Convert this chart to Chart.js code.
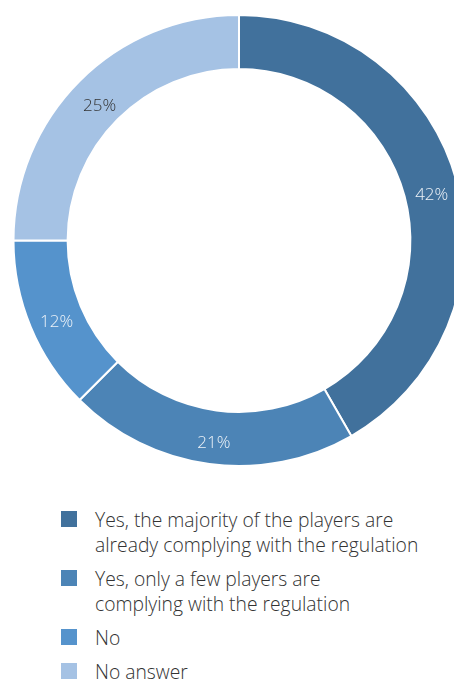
<!DOCTYPE html>
<html lang="en">
<head>
<meta charset="UTF-8">
<title>Compliance survey</title>
<script src="https://cdn.jsdelivr.net/npm/chart.js"></script>
<style>
    html, body { margin: 0; padding: 0; background: #fff; overflow: hidden; }
    body { width: 454px; height: 680px; position: relative; font-family: "Open Sans", sans-serif; }
    .chart-box { position: absolute; left: 0; top: 14px; width: 478px; height: 453px; }
    .legend { position: absolute; left: 61px; top: 507px; list-style: none; margin: 0; padding: 0; }
    .legend li { position: relative; padding-left: 34px; font-size: 19.3px; font-weight: 300; line-height: 25px; color: #333; margin-bottom: 9px; white-space: nowrap; }
    .legend li span { position: absolute; left: 0; top: 4px; width: 16px; height: 16px; }
</style>
</head>
<body>

<div class="chart-box">
    <canvas id="donut"></canvas>
</div>
<ul class="legend" id="legend"></ul>

<script>
const labels = [
    ["Yes, the majority of the players are", "already complying with the regulation"],
    ["Yes, only a few players are", "complying with the regulation"],
    ["No"],
    ["No answer"]
];
// shares as measured from the ring, and the rounded text printed on it
const values = [41.7, 20.8, 12.5, 25.0];
const pctText = ['42%', '21%', '12%', '25%'];
const colors = ['#41719c', '#4c84b6', '#5593cc', '#a5c2e4'];
const labelColors = ['#eef3f8', '#eef3f8', '#eef3f8', '#333333'];

// percentage text in the middle of each ring segment
const sliceLabels = {
    id: 'sliceLabels',
    afterDatasetsDraw(chart) {
        const ctx = chart.ctx;
        const meta = chart.getDatasetMeta(0);
        ctx.save();
        ctx.font = '300 17px "Open Sans"';
        ctx.textAlign = 'center';
        ctx.textBaseline = 'middle';
        meta.data.forEach((arc, i) => {
            const p = arc.tooltipPosition();
            ctx.fillStyle = labelColors[i];
            ctx.fillText(pctText[i], p.x + 1, p.y + 6);
        });
        ctx.restore();
    }
};

new Chart(document.getElementById('donut'), {
    type: 'doughnut',
    data: {
        labels: labels.map(l => l.join(' ')),
        datasets: [{
            data: values,
            backgroundColor: colors,
            borderColor: '#ffffff',
            borderWidth: 2,
            hoverOffset: 0
        }]
    },
    options: {
        responsive: true,
        maintainAspectRatio: false,
        animation: false,
        cutout: '76%',
        layout: { padding: 0 },
        plugins: {
            legend: { display: false },
            tooltip: { enabled: false }
        }
    },
    plugins: [sliceLabels]
});

document.getElementById('legend').innerHTML = labels.map((l, i) =>
    `<li><span style="background:${colors[i]}"></span>${l.join('<br>')}</li>`).join('');
</script>

</body>
</html>
